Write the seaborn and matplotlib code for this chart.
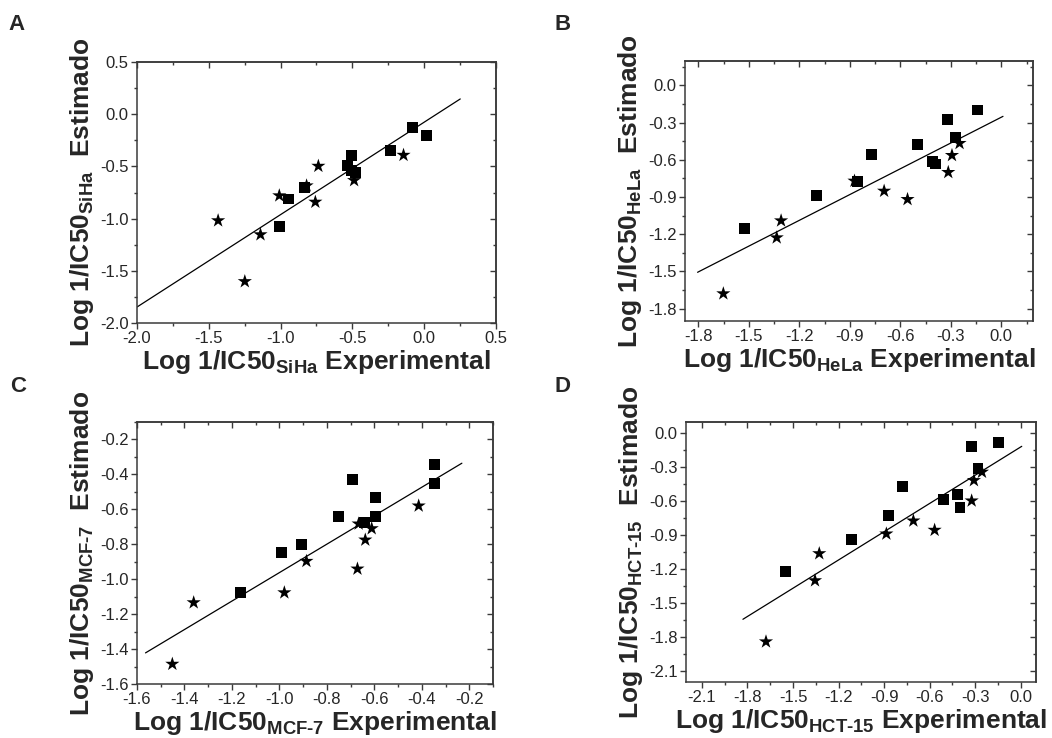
import numpy as np
import pandas as pd
import seaborn as sns
import matplotlib
matplotlib.use("Agg")
import matplotlib.pyplot as plt
from matplotlib.ticker import MultipleLocator, FormatStrFormatter

# ---------------- data ----------------
# Panel A: SiHa
a_sq_x = [-0.081, 0.014, -0.233, -0.507, -0.533, -0.505, -0.479, -0.833, -0.944, -1.005]
a_sq_y = [-0.127, -0.207, -0.350, -0.392, -0.487, -0.535, -0.561, -0.700, -0.812, -1.080]
a_st_x = [-0.144, -0.737, -0.488, -0.819, -1.009, -0.758, -1.435, -1.140, -1.249]
a_st_y = [-0.392, -0.497, -0.634, -0.685, -0.780, -0.841, -1.019, -1.153, -1.602]
a_fit_x = [-2.0, 0.251]
a_fit_y = [-1.847, 0.146]

# Panel B: HeLa
b_sq_x = [-0.141, -0.317, -0.274, -0.498, -0.769, -0.406, -0.391, -0.853, -1.098, -1.523]
b_sq_y = [-0.199, -0.274, -0.419, -0.476, -0.559, -0.613, -0.634, -0.776, -0.887, -1.155]
b_st_x = [-0.248, -0.293, -0.315, -0.872, -0.696, -0.557, -1.308, -1.334, -1.651]
b_st_y = [-0.467, -0.564, -0.701, -0.771, -0.852, -0.919, -1.091, -1.228, -1.679]
b_fit_x = [-1.804, 0.010]
b_fit_y = [-1.507, -0.250]

# Panel C: MCF-7
c_sq_x = [-0.346, -0.346, -0.691, -0.593, -0.593, -0.749, -0.642, -0.908, -0.990, -1.164]
c_sq_y = [-0.343, -0.452, -0.431, -0.530, -0.639, -0.643, -0.675, -0.803, -0.847, -1.074]
c_st_x = [-0.413, -0.666, -0.611, -0.638, -0.886, -0.671, -0.979, -1.361, -1.451]
c_st_y = [-0.580, -0.683, -0.710, -0.775, -0.897, -0.941, -1.077, -1.134, -1.486]
c_fit_x = [-1.564, -0.231]
c_fit_y = [-1.422, -0.336]

# Panel D: HCT-15
d_sq_x = [-0.149, -0.325, -0.281, -0.780, -0.510, -0.417, -0.400, -0.868, -1.114, -1.549]
d_sq_y = [-0.083, -0.118, -0.316, -0.472, -0.587, -0.546, -0.661, -0.726, -0.938, -1.227]
d_st_x = [-0.255, -0.308, -0.323, -0.707, -0.567, -0.885, -1.327, -1.355, -1.678]
d_st_y = [-0.345, -0.419, -0.599, -0.776, -0.858, -0.891, -1.065, -1.304, -1.844]
d_fit_x = [-1.830, 0.007]
d_fit_y = [-1.646, -0.118]

panel_letters = ["A", "B", "C", "D"]
cell_lines = ["SiHa", "HeLa", r"MCF\text{-}7", r"HCT\text{-}15"]

# ---------------- style ----------------
sns.set_style("ticks")
plt.rcParams["font.family"] = ["Liberation Sans", "DejaVu Sans"]
plt.rcParams["mathtext.fontset"] = "custom"
plt.rcParams["mathtext.rm"] = "Liberation Sans:bold"
plt.rcParams["mathtext.bf"] = "Liberation Sans:bold"
plt.rcParams["axes.unicode_minus"] = False

fig = plt.figure(figsize=(10.52, 7.38), dpi=100)

panels = [
    dict(pos=[0.1302, 0.5623, 0.3413, 0.3537], sq=(a_sq_x, a_sq_y), st=(a_st_x, a_st_y),
         fit=(a_fit_x, a_fit_y), xlim=(-2.0, 0.5), ylim=(-2.0, 0.5), major=0.5, minor=0.25,
         letter_xy=(8, 25)),
    dict(pos=[0.6511, 0.5650, 0.3308, 0.3523], sq=(b_sq_x, b_sq_y), st=(b_st_x, b_st_y),
         fit=(b_fit_x, b_fit_y), xlim=(-1.879, 0.188), ylim=(-1.9, 0.196), major=0.3, minor=0.15,
         letter_xy=(555, 25)),
    dict(pos=[0.1302, 0.0732, 0.3384, 0.3550], sq=(c_sq_x, c_sq_y), st=(c_st_x, c_st_y),
         fit=(c_fit_x, c_fit_y), xlim=(-1.6, -0.1), ylim=(-1.6, -0.1), major=0.2, minor=0.1,
         letter_xy=(10, 387)),
    dict(pos=[0.6521, 0.0759, 0.3327, 0.3523], sq=(d_sq_x, d_sq_y), st=(d_st_x, d_st_y),
         fit=(d_fit_x, d_fit_y), xlim=(-2.205, 0.101), ylim=(-2.2, 0.097), major=0.3, minor=0.15,
         letter_xy=(555, 387)),
]

spine_col = "#3a3a3a"
W, H = 1052, 738

for p, letter, cell in zip(panels, panel_letters, cell_lines):
    ax = fig.add_axes(p["pos"])
    df = pd.DataFrame({
        "x": list(p["sq"][0]) + list(p["st"][0]),
        "y": list(p["sq"][1]) + list(p["st"][1]),
        "kind": ["sq"] * len(p["sq"][0]) + ["st"] * len(p["st"][0]),
    })
    sns.lineplot(x=p["fit"][0], y=p["fit"][1], ax=ax, color="black", lw=0.9, legend=False)
    sns.scatterplot(data=df, x="x", y="y", style="kind", size="kind",
                    markers={"sq": "s", "st": "*"}, sizes={"sq": 62, "st": 115},
                    color="black", edgecolor="none", linewidth=0, legend=False, ax=ax, zorder=3)
    ax.set_xlim(*p["xlim"])
    ax.set_ylim(*p["ylim"])
    for axis in (ax.xaxis, ax.yaxis):
        axis.set_major_locator(MultipleLocator(p["major"]))
        axis.set_minor_locator(MultipleLocator(p["minor"]))
        axis.set_major_formatter(FormatStrFormatter("%.1f"))
    ax.tick_params(which="major", direction="out", length=4, width=1, color=spine_col,
                   labelsize=12, pad=2)
    ax.tick_params(which="minor", direction="out", length=2.5, width=1, color=spine_col)
    for s in ax.spines.values():
        s.set_visible(True)
        s.set_color(spine_col)
        s.set_linewidth(1.1)

    # inward ticks on top and right
    secx = ax.secondary_xaxis("top")
    secx.xaxis.set_major_locator(MultipleLocator(p["major"]))
    secx.xaxis.set_minor_locator(MultipleLocator(p["minor"]))
    secx.tick_params(which="major", direction="in", length=4, width=1, color=spine_col, labeltop=False)
    secx.tick_params(which="minor", direction="in", length=2.5, width=1, color=spine_col, labeltop=False)
    secx.spines["top"].set_color(spine_col)
    secx.spines["top"].set_linewidth(1.1)
    secy = ax.secondary_yaxis("right")
    secy.yaxis.set_major_locator(MultipleLocator(p["major"]))
    secy.yaxis.set_minor_locator(MultipleLocator(p["minor"]))
    secy.tick_params(which="major", direction="in", length=4, width=1, color=spine_col, labelright=False)
    secy.tick_params(which="minor", direction="in", length=2.5, width=1, color=spine_col, labelright=False)
    secy.spines["right"].set_color(spine_col)
    secy.spines["right"].set_linewidth(1.1)

    ax.set_xlabel(r"Log 1/IC50$_{\mathbf{%s}}$ Experimental" % cell,
                  fontsize=19, fontweight="bold", labelpad=1)
    ax.set_ylabel(r"Log 1/IC50$_{\mathbf{%s}}$  Estimado" % cell,
                  fontsize=19, fontweight="bold", labelpad=3)

    lx, ly = p["letter_xy"]
    fig.text(lx / W, 1 - ly / H, letter, fontsize=16, fontweight="bold", va="center", ha="left")

fig.savefig("out.png", dpi=100)
